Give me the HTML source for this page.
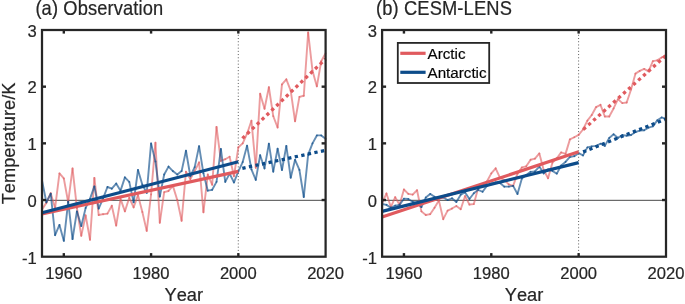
<!DOCTYPE html>
<html><head><meta charset="utf-8"><title>chart</title>
<style>
html,body{margin:0;padding:0;background:#fff;}
body{width:685px;height:304px;overflow:hidden;}
svg{display:block;font-family:"Liberation Sans",sans-serif;font-kerning:none;will-change:transform;}
text{font-kerning:none;stroke:#262626;stroke-width:0.2px;}
</style></head><body>
<svg width="685" height="304" viewBox="0 0 685 304">
<rect width="685" height="304" fill="#fff"/>
<line x1="42.0" y1="200.32" x2="325.6" y2="200.32" stroke="#333" stroke-width="0.9"/>
<line x1="238.29" y1="31.6" x2="238.29" y2="255.7" stroke="#5a5a5a" stroke-width="1" stroke-dasharray="1.0 2.21"/>
<g fill="none" stroke="#e05a5e" stroke-opacity="0.6" stroke-width="1.9" stroke-linecap="round"><path d="M42.00 209.38L46.36 202.86"/><path d="M46.36 202.86L50.73 193.22"/><path d="M50.73 193.22L55.09 207.96"/><path d="M55.09 207.96L59.45 173.39"/><path d="M59.45 173.39L63.82 178.49"/><path d="M63.82 178.49L68.18 202.29"/><path d="M68.18 202.29L72.54 168.46"/><path d="M72.54 168.46L76.90 207.96"/><path d="M76.90 207.96L81.27 235.73"/><path d="M81.27 235.73L85.63 215.33"/><path d="M85.63 215.33L89.99 239.70"/><path d="M89.99 239.70L94.36 177.92"/><path d="M94.36 177.92L98.72 215.04"/><path d="M98.72 215.04L103.08 214.19"/><path d="M103.08 214.19L107.45 213.63"/><path d="M107.45 213.63L111.81 205.69"/><path d="M111.81 205.69L116.17 225.53"/><path d="M116.17 225.53L120.54 198.89"/><path d="M120.54 198.89L124.90 211.36"/><path d="M124.90 211.36L129.26 197.76"/><path d="M129.26 197.76L133.62 207.39"/><path d="M133.62 207.39L137.99 195.15"/><path d="M137.99 195.15L142.35 211.93"/><path d="M142.35 211.93L146.71 230.91"/><path d="M146.71 230.91L151.08 194.36"/><path d="M151.08 194.36L155.44 142.78"/><path d="M155.44 142.78L159.80 222.69"/><path d="M159.80 222.69L164.17 192.09"/><path d="M164.17 192.09L168.53 190.96"/><path d="M168.53 190.96L172.89 185.86"/><path d="M172.89 185.86L177.26 200.02"/><path d="M177.26 200.02L181.62 220.71"/><path d="M181.62 220.71L185.98 171.69"/><path d="M185.98 171.69L190.34 179.06"/><path d="M190.34 179.06L194.71 171.12"/><path d="M194.71 171.12L199.07 162.34"/><path d="M199.07 162.34L203.43 212.21"/><path d="M203.43 212.21L207.80 174.52"/><path d="M207.80 174.52L212.16 184.72"/><path d="M212.16 184.72L216.52 126.91"/><path d="M216.52 126.91L220.89 160.92"/><path d="M220.89 160.92L225.25 159.22"/><path d="M225.25 159.22L229.61 156.78"/><path d="M229.61 156.78L233.98 176.22"/><path d="M233.98 176.22L238.34 147.32"/><path d="M238.34 147.32L242.70 143.35"/><path d="M242.70 143.35L247.06 133.72"/><path d="M247.06 133.72L251.43 120.68"/><path d="M251.43 120.68L255.79 167.72"/><path d="M255.79 167.72L260.15 93.70"/><path d="M260.15 93.70L264.52 108.78"/><path d="M264.52 108.78L268.88 87.24"/><path d="M268.88 87.24L273.24 116.15"/><path d="M273.24 116.15L277.61 127.48"/><path d="M277.61 127.48L281.97 84.41"/><path d="M281.97 84.41L286.33 79.31"/><path d="M286.33 79.31L290.70 90.64"/><path d="M290.70 90.64L295.06 121.25"/><path d="M295.06 121.25L299.42 96.88"/><path d="M299.42 96.88L303.78 95.74"/><path d="M303.78 95.74L308.15 32.49"/><path d="M308.15 32.49L312.51 70.81"/><path d="M312.51 70.81L316.87 86.39"/><path d="M316.87 86.39L321.24 61.17"/><path d="M321.24 61.17L325.60 53.24"/></g>
<g fill="none" stroke="#0d4c8a" stroke-opacity="0.64" stroke-width="1.9" stroke-linecap="round"><path d="M42.00 180.47L46.36 202.29"/><path d="M46.36 202.29L50.73 193.79"/><path d="M50.73 193.79L55.09 235.16"/><path d="M55.09 235.16L59.45 224.96"/><path d="M59.45 224.96L63.82 240.83"/><path d="M63.82 240.83L68.18 201.73"/><path d="M68.18 201.73L72.54 239.13"/><path d="M72.54 239.13L76.90 211.36"/><path d="M76.90 211.36L81.27 226.10"/><path d="M81.27 226.10L85.63 207.96"/><path d="M85.63 207.96L89.99 198.89"/><path d="M89.99 198.89L94.36 186.42"/><path d="M94.36 186.42L98.72 208.53"/><path d="M98.72 208.53L103.08 198.32"/><path d="M103.08 198.32L107.45 186.99"/><path d="M107.45 186.99L111.81 188.69"/><path d="M111.81 188.69L116.17 183.59"/><path d="M116.17 183.59L120.54 190.67"/><path d="M120.54 190.67L124.90 177.35"/><path d="M124.90 177.35L129.26 181.89"/><path d="M129.26 181.89L133.62 202.29"/><path d="M133.62 202.29L137.99 169.99"/><path d="M137.99 169.99L142.35 184.72"/><path d="M142.35 184.72L146.71 192.88"/><path d="M146.71 192.88L151.08 143.35"/><path d="M151.08 143.35L155.44 161.49"/><path d="M155.44 161.49L159.80 196.62"/><path d="M159.80 196.62L164.17 174.52"/><path d="M164.17 174.52L168.53 166.59"/><path d="M168.53 166.59L172.89 171.12"/><path d="M172.89 171.12L177.26 174.52"/><path d="M177.26 174.52L181.62 171.12"/><path d="M181.62 171.12L185.98 150.72"/><path d="M185.98 150.72L190.34 176.22"/><path d="M190.34 176.22L194.71 167.15"/><path d="M194.71 167.15L199.07 146.18"/><path d="M199.07 146.18L203.43 173.39"/><path d="M203.43 173.39L207.80 190.67"/><path d="M207.80 190.67L212.16 189.82"/><path d="M212.16 189.82L216.52 181.89"/><path d="M216.52 181.89L220.89 149.02"/><path d="M220.89 149.02L225.25 181.89"/><path d="M225.25 181.89L229.61 173.61"/><path d="M229.61 173.61L233.98 182.46"/><path d="M233.98 182.46L238.34 171.40"/><path d="M238.34 171.40L242.70 162.05"/><path d="M242.70 162.05L247.06 145.62"/><path d="M247.06 145.62L251.43 169.42"/><path d="M251.43 169.42L255.79 179.91"/><path d="M255.79 179.91L260.15 155.25"/><path d="M260.15 155.25L264.52 168.46"/><path d="M264.52 168.46L268.88 143.63"/><path d="M268.88 143.63L273.24 171.69"/><path d="M273.24 171.69L277.61 148.73"/><path d="M277.61 148.73L281.97 169.99"/><path d="M281.97 169.99L286.33 145.84"/><path d="M286.33 145.84L290.70 177.70"/><path d="M290.70 177.70L295.06 159.79"/><path d="M295.06 159.79L299.42 169.99"/><path d="M299.42 169.99L303.78 197.02"/><path d="M303.78 197.02L308.15 154.69"/><path d="M308.15 154.69L312.51 143.35"/><path d="M312.51 143.35L316.87 135.42"/><path d="M316.87 135.42L321.24 135.42"/><path d="M321.24 135.42L325.60 138.82"/></g>
<line x1="42.00" y1="214.02" x2="238.34" y2="171.40" stroke="#e05a5e" stroke-width="3.2"/>
<line x1="42.00" y1="212.78" x2="238.34" y2="161.77" stroke="#0d4c8a" stroke-width="3.2"/>
<line x1="239.93" y1="140.70" x2="325.60" y2="58.90" stroke="#e05a5e" stroke-width="3.3" stroke-dasharray="3.3 3.4" stroke-dashoffset="3.3"/>
<line x1="239.02" y1="168.99" x2="325.60" y2="150.26" stroke="#0d4c8a" stroke-width="3.3" stroke-dasharray="3.3 3.4" stroke-dashoffset="3.3"/>
<line x1="63.82" y1="256.7" x2="63.82" y2="253.1" stroke="#262626" stroke-width="2.4"/>
<line x1="63.82" y1="30.0" x2="63.82" y2="33.6" stroke="#262626" stroke-width="2.4"/>
<text x="63.82" y="278.8" text-anchor="middle" font-size="16.6" fill="#262626">1960</text>
<line x1="151.08" y1="256.7" x2="151.08" y2="253.1" stroke="#262626" stroke-width="2.4"/>
<line x1="151.08" y1="30.0" x2="151.08" y2="33.6" stroke="#262626" stroke-width="2.4"/>
<text x="151.08" y="278.8" text-anchor="middle" font-size="16.6" fill="#262626">1980</text>
<line x1="238.34" y1="256.7" x2="238.34" y2="253.1" stroke="#262626" stroke-width="2.4"/>
<line x1="238.34" y1="30.0" x2="238.34" y2="33.6" stroke="#262626" stroke-width="2.4"/>
<text x="238.34" y="278.8" text-anchor="middle" font-size="16.6" fill="#262626">2000</text>
<text x="325.60" y="278.8" text-anchor="middle" font-size="16.6" fill="#262626">2020</text>
<text x="36.80" y="36.80" text-anchor="end" font-size="16.6" fill="#262626">3</text>
<line x1="42.0" y1="86.67" x2="46.0" y2="86.67" stroke="#262626" stroke-width="2.4"/>
<line x1="325.6" y1="86.67" x2="321.6" y2="86.67" stroke="#262626" stroke-width="2.4"/>
<text x="36.80" y="93.47" text-anchor="end" font-size="16.6" fill="#262626">2</text>
<line x1="42.0" y1="143.35" x2="46.0" y2="143.35" stroke="#262626" stroke-width="2.4"/>
<line x1="325.6" y1="143.35" x2="321.6" y2="143.35" stroke="#262626" stroke-width="2.4"/>
<text x="36.80" y="150.15" text-anchor="end" font-size="16.6" fill="#262626">1</text>
<line x1="42.0" y1="200.02" x2="46.0" y2="200.02" stroke="#262626" stroke-width="2.4"/>
<line x1="325.6" y1="200.02" x2="321.6" y2="200.02" stroke="#262626" stroke-width="2.4"/>
<text x="36.80" y="206.82" text-anchor="end" font-size="16.6" fill="#262626">0</text>
<text x="36.80" y="263.50" text-anchor="end" font-size="16.6" fill="#262626">-1</text>
<rect x="42.0" y="30.0" width="283.60" height="226.70" fill="none" stroke="#262626" stroke-width="2.25"/>
<text x="183.80" y="301.3" text-anchor="middle" font-size="18.3" fill="#262626">Year</text>
<line x1="382.1" y1="200.32" x2="666.0" y2="200.32" stroke="#333" stroke-width="0.9"/>
<line x1="578.60" y1="31.6" x2="578.60" y2="255.7" stroke="#5a5a5a" stroke-width="1" stroke-dasharray="1.0 2.21"/>
<g fill="none" stroke="#e05a5e" stroke-opacity="0.6" stroke-width="1.9" stroke-linecap="round"><path d="M382.10 203.43L386.47 193.45"/><path d="M386.47 193.45L390.84 207.05"/><path d="M390.84 207.05L395.20 197.19"/><path d="M395.20 197.19L399.57 204.84"/><path d="M399.57 204.84L403.94 189.48"/><path d="M403.94 189.48L408.31 193.90"/><path d="M408.31 193.90L412.67 194.64"/><path d="M412.67 194.64L417.04 190.22"/><path d="M417.04 190.22L421.41 211.36"/><path d="M421.41 211.36L425.78 215.04"/><path d="M425.78 215.04L430.14 214.19"/><path d="M430.14 214.19L434.51 207.79"/><path d="M434.51 207.79L438.88 200.59"/><path d="M438.88 200.59L443.25 219.18"/><path d="M443.25 219.18L447.62 210.68"/><path d="M447.62 210.68L451.98 208.53"/><path d="M451.98 208.53L456.35 206.03"/><path d="M456.35 206.03L460.72 209.21"/><path d="M460.72 209.21L465.09 196.06"/><path d="M465.09 196.06L469.45 204.56"/><path d="M469.45 204.56L473.82 204.11"/><path d="M473.82 204.11L478.19 188.12"/><path d="M478.19 188.12L482.56 185.86"/><path d="M482.56 185.86L486.92 181.55"/><path d="M486.92 181.55L491.29 173.39"/><path d="M491.29 173.39L495.66 168.29"/><path d="M495.66 168.29L500.03 177.92"/><path d="M500.03 177.92L504.40 180.19"/><path d="M504.40 180.19L508.76 184.44"/><path d="M508.76 184.44L513.13 185.86"/><path d="M513.13 185.86L517.50 173.61"/><path d="M517.50 173.61L521.87 167.44"/><path d="M521.87 167.44L526.23 166.30"/><path d="M526.23 166.30L530.60 159.79"/><path d="M530.60 159.79L534.97 158.65"/><path d="M534.97 158.65L539.34 153.44"/><path d="M539.34 153.44L543.70 169.99"/><path d="M543.70 169.99L548.07 178.26"/><path d="M548.07 178.26L552.44 162.62"/><path d="M552.44 162.62L556.81 158.26"/><path d="M556.81 158.26L561.18 152.42"/><path d="M561.18 152.42L565.54 153.89"/><path d="M565.54 153.89L569.91 139.38"/><path d="M569.91 139.38L574.28 137.23"/><path d="M574.28 137.23L578.65 134.85"/><path d="M578.65 134.85L583.01 129.52"/><path d="M583.01 129.52L587.38 120.68"/><path d="M587.38 120.68L591.75 115.01"/><path d="M591.75 115.01L596.12 107.08"/><path d="M596.12 107.08L600.48 104.81"/><path d="M600.48 104.81L604.85 116.49"/><path d="M604.85 116.49L609.22 116.49"/><path d="M609.22 116.49L613.59 108.44"/><path d="M613.59 108.44L617.96 99.14"/><path d="M617.96 99.14L622.32 103.11"/><path d="M622.32 103.11L626.69 102.54"/><path d="M626.69 102.54L631.06 89.51"/><path d="M631.06 89.51L635.43 73.64"/><path d="M635.43 73.64L639.79 70.92"/><path d="M639.79 70.92L644.16 68.88"/><path d="M644.16 68.88L648.53 71.37"/><path d="M648.53 71.37L652.90 61.17"/><path d="M652.90 61.17L657.26 60.38"/><path d="M657.26 60.38L661.63 57.49"/><path d="M661.63 57.49L666.00 55.28"/></g>
<g fill="none" stroke="#0d4c8a" stroke-opacity="0.64" stroke-width="1.9" stroke-linecap="round"><path d="M382.10 203.99L386.47 204.84"/><path d="M386.47 204.84L390.84 207.79"/><path d="M390.84 207.79L395.20 205.58"/><path d="M395.20 205.58L399.57 204.84"/><path d="M399.57 204.84L403.94 198.72"/><path d="M403.94 198.72L408.31 199.00"/><path d="M408.31 199.00L412.67 201.73"/><path d="M412.67 201.73L417.04 203.43"/><path d="M417.04 203.43L421.41 207.05"/><path d="M421.41 207.05L425.78 197.53"/><path d="M425.78 197.53L430.14 193.90"/><path d="M430.14 193.90L434.51 196.79"/><path d="M434.51 196.79L438.88 198.32"/><path d="M438.88 198.32L443.25 197.53"/><path d="M443.25 197.53L447.62 200.02"/><path d="M447.62 200.02L451.98 198.32"/><path d="M451.98 198.32L456.35 201.95"/><path d="M456.35 201.95L460.72 194.64"/><path d="M460.72 194.64L465.09 192.43"/><path d="M465.09 192.43L469.45 199.00"/><path d="M469.45 199.00L473.82 193.22"/><path d="M473.82 193.22L478.19 189.82"/><path d="M478.19 189.82L482.56 191.75"/><path d="M482.56 191.75L486.92 185.86"/><path d="M486.92 185.86L491.29 183.59"/><path d="M491.29 183.59L495.66 182.46"/><path d="M495.66 182.46L500.03 183.02"/><path d="M500.03 183.02L504.40 186.65"/><path d="M504.40 186.65L508.76 186.65"/><path d="M508.76 186.65L513.13 185.86"/><path d="M513.13 185.86L517.50 193.96"/><path d="M517.50 193.96L521.87 178.60"/><path d="M521.87 178.60L526.23 175.09"/><path d="M526.23 175.09L530.60 171.86"/><path d="M530.60 171.86L534.97 171.40"/><path d="M534.97 171.40L539.34 166.59"/><path d="M539.34 166.59L543.70 173.39"/><path d="M543.70 173.39L548.07 169.42"/><path d="M548.07 169.42L552.44 170.95"/><path d="M552.44 170.95L556.81 173.61"/><path d="M556.81 173.61L561.18 165.57"/><path d="M561.18 165.57L565.54 161.88"/><path d="M565.54 161.88L569.91 156.95"/><path d="M569.91 156.95L574.28 156.16"/><path d="M574.28 156.16L578.65 153.21"/><path d="M578.65 153.21L583.01 155.42"/><path d="M583.01 155.42L587.38 147.37"/><path d="M587.38 147.37L591.75 146.35"/><path d="M591.75 146.35L596.12 145.90"/><path d="M596.12 145.90L600.48 143.75"/><path d="M600.48 143.75L604.85 145.90"/><path d="M604.85 145.90L609.22 137.91"/><path d="M609.22 137.91L613.59 134.28"/><path d="M613.59 134.28L617.96 137.91"/><path d="M617.96 137.91L622.32 134.96"/><path d="M622.32 134.96L626.69 135.70"/><path d="M626.69 135.70L631.06 134.96"/><path d="M631.06 134.96L635.43 132.01"/><path d="M635.43 132.01L639.79 130.60"/><path d="M639.79 130.60L644.16 130.31"/><path d="M644.16 130.31L648.53 127.65"/><path d="M648.53 127.65L652.90 126.35"/><path d="M652.90 126.35L657.26 120.34"/><path d="M657.26 120.34L661.63 117.45"/><path d="M661.63 117.45L666.00 118.98"/></g>
<line x1="382.10" y1="217.03" x2="578.65" y2="151.85" stroke="#e05a5e" stroke-width="3.2"/>
<line x1="382.10" y1="211.36" x2="578.65" y2="162.62" stroke="#0d4c8a" stroke-width="3.2"/>
<line x1="580.77" y1="131.81" x2="666.00" y2="55.50" stroke="#e05a5e" stroke-width="3.3" stroke-dasharray="3.3 3.4" stroke-dashoffset="3.3"/>
<line x1="579.95" y1="153.15" x2="666.00" y2="118.98" stroke="#0d4c8a" stroke-width="3.3" stroke-dasharray="3.3 3.4" stroke-dashoffset="3.3"/>
<line x1="403.94" y1="256.7" x2="403.94" y2="253.1" stroke="#262626" stroke-width="2.4"/>
<line x1="403.94" y1="30.0" x2="403.94" y2="33.6" stroke="#262626" stroke-width="2.4"/>
<text x="403.94" y="278.8" text-anchor="middle" font-size="16.6" fill="#262626">1960</text>
<line x1="491.29" y1="256.7" x2="491.29" y2="253.1" stroke="#262626" stroke-width="2.4"/>
<line x1="491.29" y1="30.0" x2="491.29" y2="33.6" stroke="#262626" stroke-width="2.4"/>
<text x="491.29" y="278.8" text-anchor="middle" font-size="16.6" fill="#262626">1980</text>
<line x1="578.65" y1="256.7" x2="578.65" y2="253.1" stroke="#262626" stroke-width="2.4"/>
<line x1="578.65" y1="30.0" x2="578.65" y2="33.6" stroke="#262626" stroke-width="2.4"/>
<text x="578.65" y="278.8" text-anchor="middle" font-size="16.6" fill="#262626">2000</text>
<text x="666.00" y="278.8" text-anchor="middle" font-size="16.6" fill="#262626">2020</text>
<text x="376.90" y="36.80" text-anchor="end" font-size="16.6" fill="#262626">3</text>
<line x1="382.1" y1="86.67" x2="386.1" y2="86.67" stroke="#262626" stroke-width="2.4"/>
<line x1="666.0" y1="86.67" x2="662.0" y2="86.67" stroke="#262626" stroke-width="2.4"/>
<text x="376.90" y="93.47" text-anchor="end" font-size="16.6" fill="#262626">2</text>
<line x1="382.1" y1="143.35" x2="386.1" y2="143.35" stroke="#262626" stroke-width="2.4"/>
<line x1="666.0" y1="143.35" x2="662.0" y2="143.35" stroke="#262626" stroke-width="2.4"/>
<text x="376.90" y="150.15" text-anchor="end" font-size="16.6" fill="#262626">1</text>
<line x1="382.1" y1="200.02" x2="386.1" y2="200.02" stroke="#262626" stroke-width="2.4"/>
<line x1="666.0" y1="200.02" x2="662.0" y2="200.02" stroke="#262626" stroke-width="2.4"/>
<text x="376.90" y="206.82" text-anchor="end" font-size="16.6" fill="#262626">0</text>
<text x="376.90" y="263.50" text-anchor="end" font-size="16.6" fill="#262626">-1</text>
<rect x="382.1" y="30.0" width="283.90" height="226.70" fill="none" stroke="#262626" stroke-width="2.25"/>
<text x="524.05" y="301.3" text-anchor="middle" font-size="18.3" fill="#262626">Year</text>
<text transform="translate(35.4,14.6) scale(1,1.07)" font-size="18.3" letter-spacing="0.12" fill="#262626">(a) Observation</text>
<text transform="translate(375.9,14.6) scale(1,1.07)" font-size="18.3" letter-spacing="0.15" fill="#262626">(b) CESM-LENS</text>
<text transform="translate(15.2,143.4) rotate(-90)" text-anchor="middle" font-size="18.3" fill="#262626">Temperature/K</text>
<rect x="397.8" y="42.9" width="91.4" height="40.1" fill="#fff" stroke="#262626" stroke-width="1.8"/>
<line x1="400.3" y1="53.3" x2="425.6" y2="53.3" stroke="#e05a5e" stroke-width="3.2"/>
<line x1="400.3" y1="72.3" x2="425.6" y2="72.3" stroke="#0d4c8a" stroke-width="3.2"/>
<text x="427.5" y="59.3" font-size="15.2" fill="#000">Arctic</text>
<text x="427.5" y="78.3" font-size="15.2" fill="#000">Antarctic</text>
</svg>
</body></html>
